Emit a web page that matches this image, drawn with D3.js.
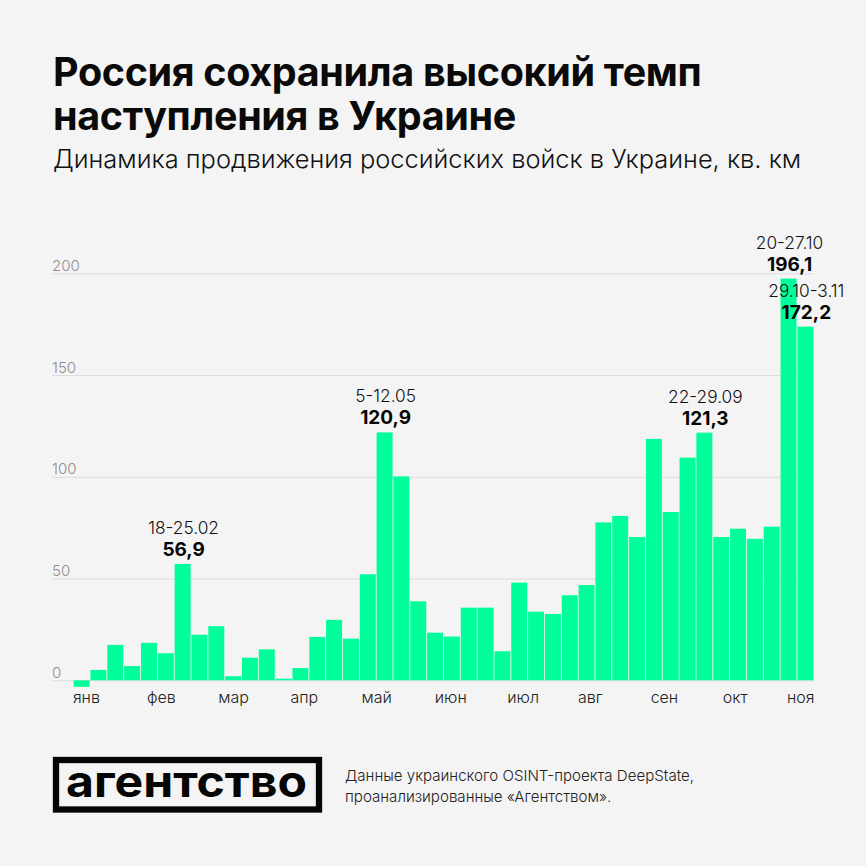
<!DOCTYPE html>
<html>
<head>
<meta charset="utf-8">
<script src="https://cdnjs.cloudflare.com/ajax/libs/d3/7.8.5/d3.min.js"></script>
<style>
html, body { margin: 0; padding: 0; background: #f4f4f4; }
svg { display: block; }
text { font-family: Inter, "Noto Sans", sans-serif; }
</style>
</head>
<body>
<div id="my_dataviz"></div>
<script>
// values, km2 per week
var weekly = [-3.2, 5.1, 17.4, 7, 18.4, 13.3, 57.2, 22.4, 26.6, 2, 11.1,
    15.2, 0.8, 6, 21.3, 29.7, 20.5, 52.1, 121.8, 100.2, 38.8, 23.4,
    21.5, 35.7, 35.7, 14.3, 48, 33.7, 32.6, 41.8, 46.8, 77.6, 80.8,
    70.4, 118.6, 82.7, 109.4, 121.7, 70.4, 74.5, 69.5, 75.5, 197.4, 173.8];
var months = ["янв", "фев", "мар", "апр", "май", "июн", "июл", "авг", "сен", "окт", "ноя"];
var monthWeeks = [0.75, 5.2, 9.5, 13.7, 18, 22.4, 26.7, 30.7, 35.1, 39.3, 43.2];
var yTicks = [0, 50, 100, 150, 200];

var noteWeeks = [6, 18, 37, 42, 43];
var noteDates = ["18-25.02", "5-12.05", "22-29.09", "20-27.10", "29.10-3.11"];
var noteValues = ["56,9", "120,9", "121,3", "196,1", "172,2"];

var titleLines = ["Россия сохранила высокий темп", "наступления в Украине"];
var subtitle = "Динамика продвижения российских войск в Украине, кв. км";
var sourceLines = ["Данные украинского OSINT-проекта DeepState,", "проанализированные «Агентством»."];

var svg = d3.select("#my_dataviz").append("svg")
    .attr("width", 866)
    .attr("height", 866);

svg.append("rect").attr("width", 866).attr("height", 866).attr("fill", "#f4f4f4");

// scales
var x = d3.scaleBand()
    .domain(d3.range(weekly.length))
    .range([73.3, 813.7])
    .paddingInner(0.05)
    .paddingOuter(0.02);
var xWeeks = d3.scaleLinear().domain([0, weekly.length]).range([73.3, 813.7]);
var y = d3.scaleLinear().domain([0, 200]).range([680.3, 273.3]);

// heading
svg.selectAll(".title").data(titleLines).enter().append("text")
    .attr("class", "title")
    .attr("x", 53)
    .attr("y", function(d, i) { return 86 + i * 44; })
    .attr("font-size", 39.5)
    .attr("font-weight", 700)
    .attr("letter-spacing", -0.35)
    .attr("fill", "#0a0a0a")
    .text(function(d) { return d; });

svg.append("text")
    .attr("x", 53)
    .attr("y", 168)
    .attr("font-size", 25.4)
    .attr("font-weight", 300)
    .attr("fill", "#111")
    .text(subtitle);

// grid and y labels
var yAxis = svg.append("g")
    .attr("transform", "translate(52,0)")
    .call(d3.axisRight(y).tickValues(yTicks).tickSize(761.7).tickPadding(0));
yAxis.select(".domain").remove();
yAxis.selectAll("line").attr("stroke", "#dcdcdc").attr("stroke-width", 1);
yAxis.selectAll("text")
    .attr("x", 0)
    .attr("dy", -3)
    .attr("text-anchor", "start")
    .attr("font-size", 15)
    .attr("font-weight", 300)
    .attr("font-family", "Inter")
    .attr("fill", "#8f8f8f");

// bars
svg.selectAll(".bar").data(weekly).enter().append("rect")
    .attr("class", "bar")
    .attr("x", function(d, i) { return x(i); })
    .attr("width", x.bandwidth())
    .attr("y", function(d) { return y(Math.max(d, 0)); })
    .attr("height", function(d) { return Math.abs(y(d) - y(0)); })
    .attr("fill", "#00ff9b");

// month labels
var xAxis = svg.append("g")
    .attr("transform", "translate(0,692)")
    .call(d3.axisBottom(xWeeks).tickValues(monthWeeks)
        .tickFormat(function(d, i) { return months[i]; })
        .tickSize(0).tickPadding(0));
xAxis.select(".domain").remove();
xAxis.selectAll("text")
    .attr("font-size", 16)
    .attr("font-weight", 300)
    .attr("font-family", "Inter")
    .attr("fill", "#222");

// notes over the peaks
noteWeeks.forEach(function(w, i) {
    var cx = x(w) + x.bandwidth() / 2 + 1;
    var top = y(weekly[w]);
    svg.append("text")
        .attr("x", cx).attr("y", top - 30)
        .attr("text-anchor", "middle")
        .attr("font-size", 17.3)
        .attr("font-weight", 300)
        .attr("fill", "#111")
        .text(noteDates[i]);
    svg.append("text")
        .attr("x", cx).attr("y", top - 8)
        .attr("text-anchor", "middle")
        .attr("font-size", 19)
        .attr("font-weight", 700)
        .attr("fill", "#050505")
        .text(noteValues[i]);
});

// logo
svg.append("rect")
    .attr("x", 56).attr("y", 760)
    .attr("width", 263).attr("height", 49.5)
    .attr("fill", "none")
    .attr("stroke", "#050505")
    .attr("stroke-width", 6.3);
svg.append("text")
    .attr("x", 66).attr("y", 797)
    .attr("font-size", 43)
    .attr("font-weight", 700)
    .attr("font-family", "DejaVu Sans")
    .attr("textLength", 241)
    .attr("lengthAdjust", "spacingAndGlyphs")
    .attr("fill", "#050505")
    .text("агентство");

// source
svg.selectAll(".source").data(sourceLines).enter().append("text")
    .attr("class", "source")
    .attr("x", 345)
    .attr("y", function(d, i) { return 781 + i * 21; })
    .attr("font-size", 15.1)
    .attr("font-weight", 300)
    .attr("fill", "#222")
    .text(function(d) { return d; });
</script>
</body>
</html>
